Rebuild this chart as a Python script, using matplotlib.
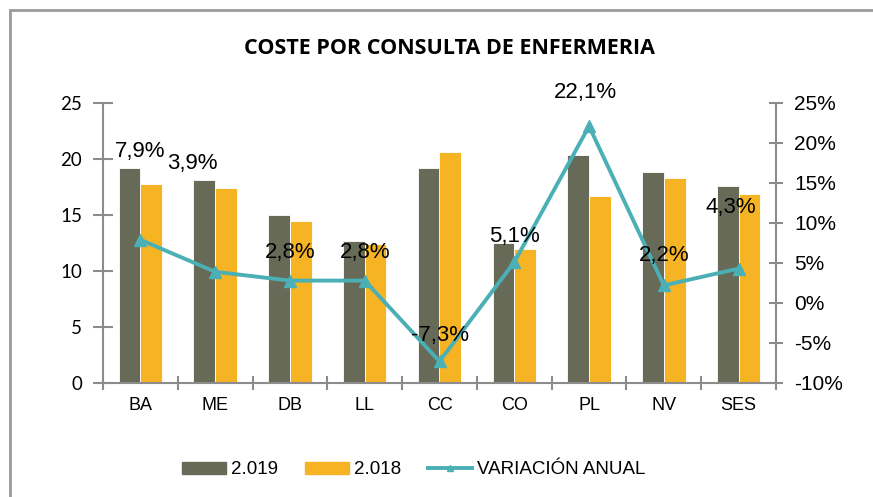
import matplotlib
matplotlib.use("Agg")
import matplotlib.pyplot as plt
import numpy as np
from matplotlib.lines import Line2D
from matplotlib.patches import Patch, Rectangle

categories = ["BA", "ME", "DB", "LL", "CC", "CO", "PL", "NV", "SES"]
cost_2019 = [19.2, 18.1, 15.0, 12.7, 19.2, 12.5, 20.4, 18.8, 17.6]
cost_2018 = [17.8, 17.4, 14.5, 12.4, 20.6, 12.0, 16.7, 18.3, 16.9]
variation = [7.9, 3.9, 2.8, 2.8, -7.3, 5.1, 22.1, 2.2, 4.3]
# label placement (offset in category units, label y in %)
label_dx = [0.0, -0.3, 0.0, 0.0, 0.0, 0.0, -0.05, 0.0, -0.1]
label_y = [18.9, 17.4, 6.3, 6.3, -4.0, 8.3, 26.3, 5.9, 11.9]
left_ticks = [0, 5, 10, 15, 20, 25]
right_ticks = [-10, -5, 0, 5, 10, 15, 20, 25]

c2019 = "#666A57"
c2018 = "#F6B324"
cline = "#4AB0B6"
gray = "#8C8C8C"

fig = plt.figure(figsize=(8.73, 4.97), dpi=100)
W, H = 873, 497
ax = fig.add_axes([103 / W, 1 - 383 / H, (776 - 103) / W, (383 - 103) / H])
ax2 = ax.twinx()

x = np.arange(len(categories))
bw = 0.29
ax.bar(x - bw / 2, cost_2019, bw, color=c2019, edgecolor="white", linewidth=0.6, zorder=2)
ax.bar(x + bw / 2, cost_2018, bw, color=c2018, edgecolor="white", linewidth=0.6, zorder=2)
ax.set_xlim(-0.5, len(categories) - 0.5)
ax.set_ylim(0, 25)
ax.set_yticks(left_ticks)
ax.set_yticklabels([str(t) for t in left_ticks], fontsize=13.5, family="Lato")
ax.set_xticks(x)
ax.set_xticklabels(categories, fontsize=13, family="Liberation Sans")
ax.set_xticks(np.arange(len(categories) + 1) - 0.5, minor=True)
ax.tick_params(axis="x", which="major", length=0, pad=10)
ax.tick_params(axis="x", which="minor", length=10, direction="inout", color=gray, width=1.5)
ax.tick_params(axis="y", length=14, direction="inout", color=gray, width=1.5, pad=8)

ax2.plot(x, variation, color=cline, linewidth=2.8, marker="^", markersize=8.5, zorder=5)
ax2.set_ylim(-10, 25)
ax2.set_yticks(right_ticks)
ax2.set_yticklabels([f"{t}%" for t in right_ticks], fontsize=15, family="Liberation Sans")
ax2.tick_params(axis="y", length=10, direction="inout", color=gray, width=1.5, pad=8)

for i, v in enumerate(variation):
    ax2.text(i + label_dx[i], label_y[i], f"{v:.1f}%".replace(".", ","),
             ha="center", va="center", fontsize=16, family="Liberation Sans", zorder=6)

for a in (ax, ax2):
    for s in a.spines.values():
        s.set_visible(False)
ax.spines["left"].set_visible(True)
ax.spines["bottom"].set_visible(True)
ax2.spines["right"].set_visible(True)
for s in (ax.spines["left"], ax.spines["bottom"], ax2.spines["right"]):
    s.set_color(gray)
    s.set_linewidth(1.5)
ax.set_zorder(1)
ax2.set_zorder(2)
ax.patch.set_visible(False)

fig.text(450 / W, 1 - 48 / H, "COSTE POR CONSULTA DE ENFERMERIA", ha="center", va="center",
         fontsize=15.5, fontweight="bold", family="Open Sans")

handles = [Patch(color=c2019), Patch(color=c2018),
           Line2D([0], [0], color=cline, linewidth=2.8, marker="^", markersize=4)]
leg = fig.legend(handles, ["2.019", "2.018", "VARIACIÓN ANUAL"], loc="center",
                 bbox_to_anchor=(414 / W, 1 - 470 / H), ncol=3, frameon=False,
                 prop={"family": "Liberation Sans", "size": 13.5},
                 handlelength=2.3, handleheight=0.6, columnspacing=1.45, handletextpad=0.3)

fig.patches.append(Rectangle((10 / W, -0.1), 1.2, 1 - 10 / H + 0.1, transform=fig.transFigure,
                             fill=False, edgecolor="#9A9A9A", linewidth=2))

fig.savefig("out.png", dpi=100)
